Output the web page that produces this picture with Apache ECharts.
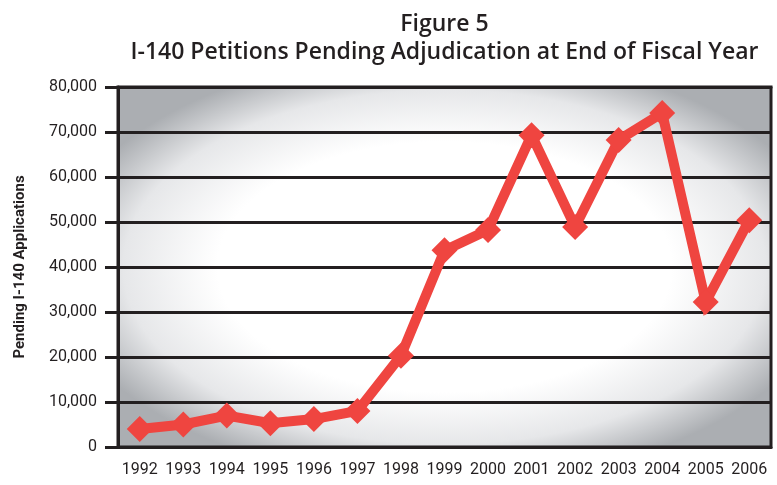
<!DOCTYPE html>
<html>
<head>
<meta charset="utf-8">
<script src="https://cdn.jsdelivr.net/npm/echarts@6/dist/echarts.min.js"></script>
<style>
  html, body { margin: 0; padding: 0; background: #fff; }
  #chartmain { width: 777px; height: 485px; }
</style>
</head>
<body>
<div id="chartmain"></div>
<script>
// fiscal years and pending I-140 petitions at year end
var years = ['1992', '1993', '1994', '1995', '1996', '1997', '1998', '1999',
	'2000', '2001', '2002', '2003', '2004', '2005', '2006'];
var pending = [4000, 5000, 7000, 5300, 6200, 8000, 20300, 43700,
	48200, 69300, 48900, 68200, 74200, 32200, 50400];
var yTicks = [0, 10000, 20000, 30000, 40000, 50000, 60000, 70000, 80000];

var ink = '#231f20';
var narrow = 'Roboto';
var gridLeft = 118, gridTop = 87, gridW = 653, gridH = 360;

var option = {
	backgroundColor : '#ffffff',
	animation : false,
	title : {
		text : 'Figure 5\nI-140 Petitions Pending Adjudication at End of Fiscal Year',
		left : gridLeft + gridW / 2 - 5,
		textAlign : 'center',
		top : 5,
		textStyle : {
			fontFamily : 'Open Sans',
			fontWeight : 600,
			fontSize : 23,
			lineHeight : 28,
			color : ink
		}
	},
	// soft grey vignette behind the plot
	graphic : [ {
		type : 'rect',
		z : -10,
		x : gridLeft,
		y : gridTop,
		scaleY : gridH / gridW,
		shape : { x : 0, y : 0, width : gridW, height : gridW },
		style : {
			fill : {
				type : 'radial', x : 0.5, y : 0.5, r : 0.6,
				colorStops : [
					{ offset : 0, color : '#ffffff' },
					{ offset : 0.58, color : '#ffffff' },
					{ offset : 0.82, color : '#e6e7e9' },
					{ offset : 1, color : '#abaeb2' }
				]
			}
		}
	} ],
	grid : {
		left : gridLeft,
		right : 777 - gridLeft - gridW,
		top : gridTop,
		bottom : 485 - gridTop - gridH,
		show : true,
		backgroundColor : 'transparent',
		borderColor : ink,
		borderWidth : 3
	},
	xAxis : [ {
		type : 'category',
		data : years,
		boundaryGap : true,
		axisLine : { lineStyle : { color : ink, width : 3 } },
		axisTick : { length : 10, lineStyle : { color : ink, width : 3 } },
		axisLabel : {
			interval : 0,
			margin : 15,
			fontFamily : narrow,
			fontSize : 16,
			color : ink
		}
	}, {
		type : 'category',
		data : years,
		position : 'top',
		boundaryGap : true,
		axisLine : { lineStyle : { color : ink, width : 3 } },
		axisTick : { length : 7, lineStyle : { color : ink, width : 2 } },
		axisLabel : { show : false }
	} ],
	yAxis : {
		type : 'value',
		min : 0,
		max : 80000,
		interval : 10000,
		name : 'Pending I-140 Applications',
		nameLocation : 'middle',
		nameGap : 90,
		nameTextStyle : {
			fontFamily : narrow,
			fontWeight : 'bold',
			fontSize : 15,
			color : ink
		},
		axisLine : { show : true, lineStyle : { color : ink, width : 3 } },
		axisTick : { show : true, length : 13, lineStyle : { color : ink, width : 3 } },
		splitLine : { lineStyle : { color : ink, width : 3 } },
		axisLabel : {
			margin : 21,
			fontFamily : narrow,
			fontSize : 16,
			color : ink,
			formatter : function(v) {
				return yTicks.indexOf(v) >= 0 ? v.toLocaleString('en-US') : '';
			}
		}
	},
	series : [ {
		name : 'Pending',
		type : 'line',
		data : pending,
		symbol : 'diamond',
		symbolSize : 26,
		lineStyle : { color : '#ef4540', width : 10, join : 'miter' },
		itemStyle : { color : '#ef4540' },
		z : 5
	} ]
};

var myChart = echarts.init(document.getElementById('chartmain'));
myChart.setOption(option);
</script>
</body>
</html>
